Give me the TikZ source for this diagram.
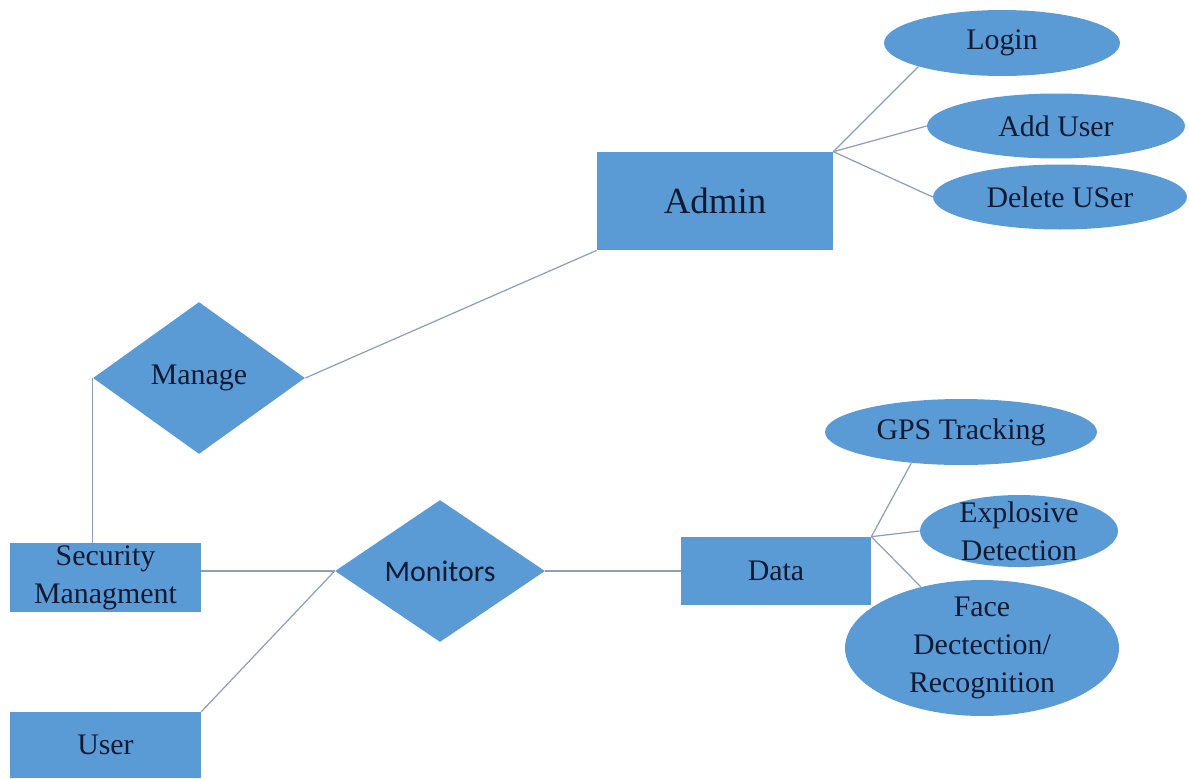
\documentclass[tikz,border=0pt]{standalone}
\usepackage{fontspec}
\setmainfont{Liberation Serif}
\newfontfamily\calibrifont{Carlito}
\usetikzlibrary{shapes.geometric}

\definecolor{erblue}{HTML}{5B9BD5}
\definecolor{erline}{HTML}{8E9FB8}
\definecolor{ertext}{HTML}{101A33}

\begin{document}
\begin{tikzpicture}[x=0.02cm, y=-0.02cm,
    entity/.style={rectangle, fill=erblue, inner sep=0pt, text=ertext,
        align=center, font=\fontsize{17}{21.5}\selectfont},
    relation/.style={diamond, fill=erblue, inner sep=0pt, text=ertext,
        font=\fontsize{17}{21}\selectfont},
    attrib/.style={ellipse, fill=erblue, inner sep=-4pt, text=ertext,
        align=center, font=\fontsize{17}{21.5}\selectfont},
    link/.style={erline, line width=0.7pt}
]

\useasboundingbox (0,0) rectangle (1189,778);

% =========================
% Admin side
% =========================
\node[entity, minimum width=4.72cm, minimum height=1.96cm,
    font=\fontsize{21}{25}\selectfont] (admin) at (715,201) {Admin};

\node[attrib, minimum width=4.72cm, minimum height=1.32cm] (login) at (1002,43) {Login};
\node[attrib, minimum width=5.16cm, minimum height=1.30cm] (adduser) at (1056,126) {Add User};
\node[attrib, minimum width=5.08cm, minimum height=1.30cm] (deluser) at (1060,197) {Delete USer};

\node[relation, minimum width=4.24cm, minimum height=3.04cm] (manage) at (199,378) {Manage};

% attribute links
\draw[link] (admin.north east) -- (login.south west);
\draw[link] (admin.north east) -- (adduser.west);
\draw[link] (admin.north east) -- (deluser.west);

% =========================
% Security side
% =========================
\node[entity, minimum width=3.82cm, minimum height=1.38cm] (secmgmt) at (105.5,577.5) {Security\\Managment};
\node[entity, minimum width=3.82cm, minimum height=1.32cm] (user) at (105.5,745) {User};

\node[relation, minimum width=4.2cm, minimum height=2.84cm,
    font=\calibrifont\fontsize{17}{21}\selectfont] (monitors) at (440,571) {Monitors};

\node[entity, minimum width=3.8cm, minimum height=1.36cm] (data) at (776,571) {Data};

\node[attrib, minimum width=5.44cm, minimum height=1.32cm] (gps) at (961,432) {GPS Tracking};
\node[attrib, minimum width=3.96cm, minimum height=1.44cm] (explosive) at (1019,531) {Explosive\\Detection};
\node[attrib, minimum width=5.48cm, minimum height=2.72cm] (face) at (982,648) {Face\\Dectection/\\Recognition};

% relationship links
\draw[link] (manage.east) -- (admin.south west);
\draw[link] (manage.west) -- (manage.west |- secmgmt.north);
\draw[link] (secmgmt.east |- monitors.west) -- (monitors.west);
\draw[link] (user.north east) -- (monitors.west);
\draw[link] (monitors.east) -- (data.west);

% attribute links
\draw[link] (data.north east) -- (gps.212);
\draw[link] (data.north east) -- (explosive.west);
\draw[link] (data.north east) -- (face.135);

\end{tikzpicture}
\end{document}
